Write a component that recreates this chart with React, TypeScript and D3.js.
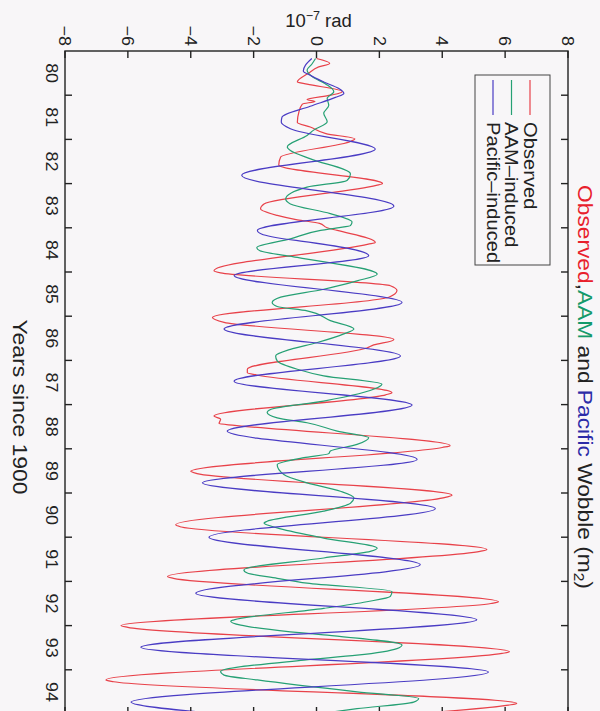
import React from "react";
import * as d3 from "d3";

// Polar-motion wobble series, [year since 1900, 1e-7 rad]
const observed: [number, number][] = [
  [80.17, 0.0], [80.28, 0.42], [80.36, 0.07], [80.5, -0.25], [80.7, -0.61], [80.75, -0.3],
  [80.92, 0.82], [81.0, 0.45], [81.1, -0.3], [81.14, -0.05], [81.2, -0.45], [81.38, -0.56],
  [81.62, -0.61], [81.72, -0.2], [81.87, 0.3], [81.99, 1.22], [82.04, 1.1], [82.4, -1.14],
  [82.58, -1.2], [83.0, 2.1], [83.04, 1.9], [83.46, -1.67], [83.57, -1.78], [83.72, -1.25],
  [83.82, -0.61], [83.9, 0.1], [84.0, 0.34], [84.06, 0.66], [84.33, 1.87], [84.37, 1.65],
  [84.97, -3.26], [85.02, -3.05], [85.31, 2.35], [85.42, 2.56], [85.57, 2.3], [86.03, -3.31],
  [86.14, -2.94], [86.53, 2.46], [86.65, 1.82], [86.72, 1.6], [87.2, -2.2], [87.28, -2.2],
  [87.33, -1.9], [87.73, 2.4], [87.78, 2.2], [88.26, -3.26], [88.33, -3.05], [88.43, -3.1],
  [88.47, -2.6], [88.93, 4.25], [88.97, 4.0], [89.51, -4.0], [89.56, -3.8], [90.05, 4.31],
  [90.1, 4.1], [90.72, -4.48], [90.77, -4.3], [91.28, 5.42], [91.32, 5.2], [91.89, -4.74],
  [91.93, -4.55], [92.46, 5.79], [92.5, 5.55], [93.0, -6.22], [93.04, -6.0], [93.59, 6.14],
  [93.63, 5.9], [94.23, -6.7], [94.27, -6.45], [94.76, 6.37], [94.8, 6.1], [95.0, 3.0],
];

const aamInduced: [number, number][] = [
  [80.17, -0.03], [80.3, -0.15], [80.43, -0.3], [80.58, -0.14], [80.75, 0.3], [80.92, 0.55],
  [81.07, 0.34], [81.23, 0.39], [81.41, 0.23], [81.6, 0.34], [81.79, -0.09], [81.91, -0.3],
  [82.17, -0.93], [82.25, -0.83], [82.44, -0.19], [82.78, 1.08], [82.93, 0.97], [83.08, -0.3],
  [83.35, -0.98], [83.46, -0.83], [83.68, 0.44], [83.87, 1.13], [83.95, 1.08], [84.0, 0.66],
  [84.06, 0.13], [84.25, -0.83], [84.45, -1.9], [84.52, -1.8], [84.67, -0.61], [85.05, 1.93],
  [85.2, 1.29], [85.31, 0.71], [85.39, 0.23], [85.57, -1.14], [85.69, -1.41], [85.78, -1.25],
  [85.88, -0.3], [86.1, 0.44], [86.29, 1.19], [86.4, 0.87], [86.6, 0.0], [86.75, -0.83],
  [86.9, -1.3], [87.01, -1.25], [87.2, -0.61], [87.35, 0.23], [87.54, 2.08], [87.62, 1.93],
  [87.92, 0.23], [88.11, -1.46], [88.18, -1.57], [88.3, -1.25], [88.41, -0.3], [88.6, 0.66],
  [88.75, 1.66], [88.9, 1.29], [89.05, 0.44], [89.11, 0.39], [89.2, -0.4], [89.36, -1.25],
  [89.58, -1.04], [89.77, -0.3], [89.96, 0.76], [90.11, 1.19], [90.23, 1.08], [90.41, 0.23],
  [90.64, -1.57], [90.68, -1.67], [90.79, -1.25], [91.02, 0.23], [91.25, 1.93], [91.32, 1.71],
  [91.47, 0.23], [91.74, -2.31], [91.81, -2.2], [91.93, -1.25], [92.04, -0.3], [92.23, 2.4],
  [92.34, 2.35], [92.46, 1.6], [92.61, 0.23], [92.87, -2.62], [92.9, -2.73], [92.99, -2.41],
  [93.14, -0.83], [93.21, 0.23], [93.44, 2.72], [93.52, 2.56], [93.67, 1.29], [93.78, -0.4],
  [94.04, -3.05], [94.12, -2.94], [94.23, -1.88], [94.5, 1.29], [94.65, 3.25], [94.73, 3.09],
  [94.88, 1.29], [94.98, 0.23],
];

const pacificInduced: [number, number][] = [
  [80.17, -0.15], [80.32, -0.35], [80.45, -0.42], [80.55, -0.2], [80.7, 0.23], [80.85, 0.71],
  [80.96, 0.87], [81.05, 0.6], [81.25, -0.2], [81.5, -1.1], [81.61, -1.12], [81.76, -0.83],
  [82.22, 1.87], [82.81, -2.38], [83.51, 2.46], [84.06, -1.88], [84.14, -1.75], [84.27, -0.83],
  [84.3, -0.5], [84.63, 1.66], [85.08, -2.62], [85.69, 2.72], [86.29, -2.94], [86.9, 2.67],
  [87.47, -2.62], [88.01, 3.04], [88.6, -2.84], [89.24, 3.2], [89.77, -3.63], [90.35, 3.78],
  [91.0, -3.42], [91.62, 3.3], [92.27, -3.84], [92.87, 5.1], [93.49, -5.59], [94.05, 5.47],
  [94.73, -5.9], [95.0, -3.0],
];

const yearLabels = ["80", "81", "82", "83", "84", "85", "86", "87", "88", "89", "90", "91", "92", "93", "94"];
const yearTicks = [81, 82, 83, 84, 85, 86, 87, 88, 89, 90, 91, 92, 93, 94];
const valueTicks = [-8, -6, -4, -2, 0, 2, 4, 6, 8];

const seriesNames = ["Observed", "AAM\u2013induced", "Pacific\u2013induced"];
const seriesColors = ["#e8424a", "#26a074", "#4a3cc4"];

const FONT = "'Liberation Sans', Arial, Helvetica, sans-serif";
const INK = "#222";

export default function App() {
  // Chart laid out landscape, then turned a quarter turn clockwise onto the page.
  const left = 51, right = 714, top = 32, bottom = 535;

  const x = d3.scaleLinear().domain([80, 95]).range([left, right]);
  const y = d3.scaleLinear().domain([-8, 8]).range([bottom, top]);

  const line = d3
    .line<[number, number]>()
    .x((d) => x(d[0]))
    .y((d) => y(d[1]))
    .curve(d3.curveMonotoneX);

  const series = [observed, aamInduced, pacificInduced];
  const tickLen = 7;
  const sx = 1.12;

  return (
    <svg
      width={600}
      height={711}
      style={{ position: "absolute", left: 0, top: 0, background: "#f8f6f8" }}
      fontFamily={FONT}
    >
      <rect x={0} y={0} width={600} height={711} fill="#f8f6f8" />
      <g transform={`translate(600,0) rotate(90)`}>
        <defs>
          <clipPath id="plot-clip">
            <rect x={left} y={top} width={right - left} height={bottom - top} />
          </clipPath>
        </defs>

        {/* data lines */}
        <g clipPath="url(#plot-clip)" fill="none" strokeWidth={1.2}>
          {series.map((s, i) => (
            <path key={i} d={line(s) || ""} stroke={seriesColors[i]} />
          ))}
        </g>

        {/* frame */}
        <rect x={left} y={top} width={right - left} height={bottom - top} fill="none" stroke={INK} strokeWidth={1.4} />

        {/* year ticks on both long edges */}
        {yearTicks.map((t) => (
          <g key={t} stroke={INK} strokeWidth={1.4}>
            <line x1={x(t)} x2={x(t)} y1={bottom} y2={bottom - tickLen} />
            <line x1={x(t)} x2={x(t)} y1={top} y2={top + tickLen} />
          </g>
        ))}
        {/* value ticks on both short edges */}
        {valueTicks.map((v) => (
          <g key={v} stroke={INK} strokeWidth={1.4}>
            <line x1={left} x2={left + tickLen} y1={y(v)} y2={y(v)} />
            <line x1={right} x2={right - tickLen} y1={y(v)} y2={y(v)} />
          </g>
        ))}

        {/* year labels centred in each year */}
        {yearLabels.map((lab, i) => (
          <text
            key={lab}
            transform={`translate(${x(80 + i + 0.5)},554) scale(${sx},1)`}
            textAnchor="middle"
            fontSize={16}
            fill={INK}
          >
            {lab}
          </text>
        ))}

        {/* value labels */}
        {valueTicks.map((v) => (
          <text
            key={v}
            transform={`translate(${left - 5},${y(v)}) scale(${sx},1)`}
            textAnchor="end"
            dy="0.36em"
            fontSize={16}
            fill={INK}
          >
            {v < 0 ? `\u2212${Math.abs(v)}` : `${v}`}
          </text>
        ))}

        {/* axis titles */}
        <text
          transform={`translate(407,587) scale(${sx},1)`}
          textAnchor="middle"
          fontSize={20.5}
          fill={INK}
        >
          Years since 1900
        </text>
        <text transform={`translate(27,${y(0) - 2}) rotate(-90)`} textAnchor="middle" fontSize={18.5} fill={INK}>
          10
          <tspan fontSize={12.5} dy={-7}>
            {"\u22127"}
          </tspan>
          <tspan dy={7}> rad</tspan>
        </text>

        {/* chart title */}
        <text transform={`translate(387,22) scale(1.11,1)`} textAnchor="middle" fontSize={20.5} fill={INK}>
          <tspan fill="#e8202c">Observed</tspan>
          <tspan fill={INK}>,</tspan>
          <tspan fill="#149a6a">AAM</tspan>
          <tspan fill={INK}> and </tspan>
          <tspan fill="#2c2ca8">Pacific</tspan>
          <tspan fill={INK}> Wobble (m</tspan>
          <tspan fontSize={14} dy={4}>
            2
          </tspan>
          <tspan dy={-4}>)</tspan>
        </text>

        {/* legend */}
        <g>
          <rect x={75} y={50} width={190} height={75} fill="#f8f6f8" stroke="#444" strokeWidth={1} />
          {seriesNames.map((name, i) => {
            const ly = 70 + i * 18.5;
            return (
              <g key={name}>
                <line x1={80} x2={115} y1={ly} y2={ly} stroke={seriesColors[i]} strokeWidth={1.2} />
                <text
                  transform={`translate(122,${ly}) scale(${sx},1)`}
                  dy="0.36em"
                  fontSize={18}
                  fill={INK}
                >
                  {name}
                </text>
              </g>
            );
          })}
        </g>
      </g>
    </svg>
  );
}
